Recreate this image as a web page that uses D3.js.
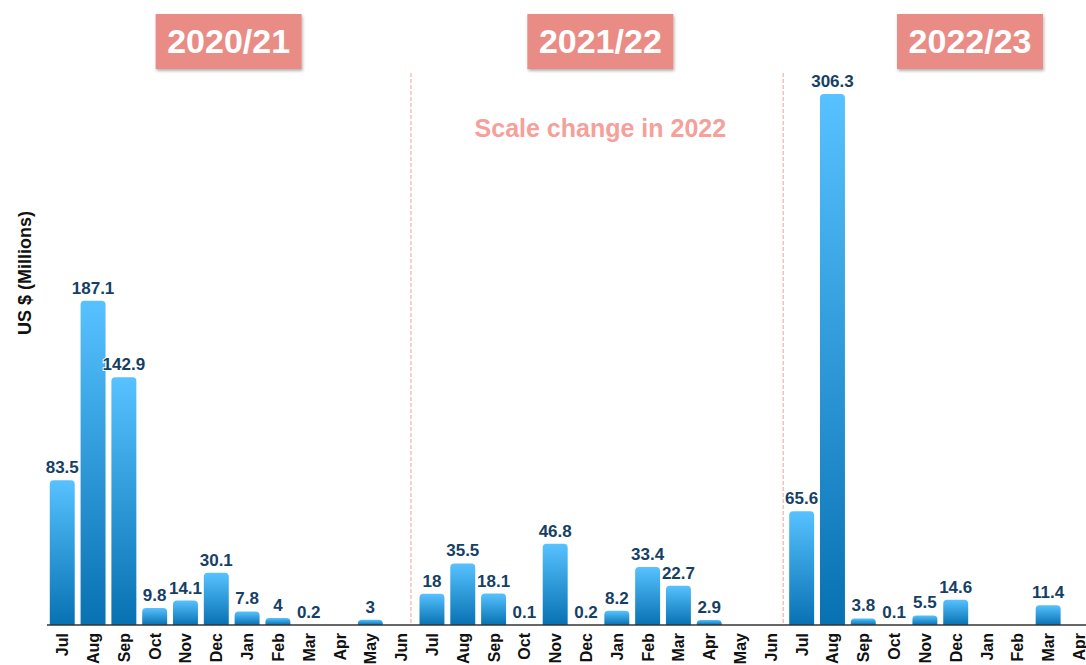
<!DOCTYPE html>
<html>
<head>
    <meta charset="utf-8">
    <title>Monthly values by year</title>
    <script src="https://d3js.org/d3.v7.min.js"></script>
    <style>
        body { margin: 0; background: #fff; }
        svg { display: block; font-family: "Liberation Sans", Arial, Helvetica, sans-serif; }
        .val { font-weight: bold; font-size: 17px; fill: #163f66; stroke: #fff; stroke-width: 2px; paint-order: stroke; }
        .mon { font-weight: bold; font-size: 16px; fill: #111; }
    </style>
</head>
<body>
<svg id="chart"></svg>
<script>
    // year groups and months
    const years = ["2020/21", "2021/22", "2022/23"];
    const months = ["Jul", "Aug", "Sep", "Oct", "Nov", "Dec", "Jan", "Feb", "Mar", "Apr", "May", "Jun"];
    const monthsShown = [12, 12, 10];

    // US $ millions per month (null = no bar)
    const values2020 = [83.5, 187.1, 142.9, 9.8, 14.1, 30.1, 7.8, 4, 0.2, null, 3, null];
    const values2021 = [18, 35.5, 18.1, 0.1, 46.8, 0.2, 8.2, 33.4, 22.7, 2.9, null, null];
    const values2022 = [65.6, 306.3, 3.8, 0.1, 5.5, 14.6, null, null, 11.4, null];

    const note = "Scale change in 2022";
    const yLabel = "US $ (Millions)";

    const width = 1086, height = 665;
    const svg = d3.select("#chart").attr("width", width).attr("height", height);

    // build flat data
    let data = [];
    [values2020, values2021, values2022].forEach(function (arr, g) {
        for (let i = 0; i < monthsShown[g]; i++) {
            data.push({ key: g + "-" + i, group: g, month: months[i], value: arr[i] });
        }
    });

    const x = d3.scaleBand()
        .domain(data.map(d => d.key))
        .range([47, 47 + 30.8 * data.length])
        .paddingInner(0.19)
        .paddingOuter(0.09);
    const step = x.step();
    const y = d3.scaleLinear().domain([0, 306.3]).range([625, 94]);

    // gradient for bars
    const defs = svg.append("defs");
    const grad = defs.append("linearGradient")
        .attr("id", "barGrad").attr("x1", 0).attr("y1", 0).attr("x2", 0).attr("y2", 1);
    grad.append("stop").attr("offset", "0%").attr("stop-color", "#57c2ff");
    grad.append("stop").attr("offset", "100%").attr("stop-color", "#0771b2");

    const flt = defs.append("filter").attr("id", "shadow")
        .attr("x", "-10%").attr("y", "-10%").attr("width", "125%").attr("height", "135%");
    flt.append("feDropShadow").attr("dx", 1).attr("dy", 2).attr("stdDeviation", 1.5)
        .attr("flood-color", "#000").attr("flood-opacity", 0.3);

    // bars with rounded tops
    function barPath(d) {
        const x0 = x(d.key), w = x.bandwidth(), y0 = y(d.value), b = y(0);
        const r = Math.min(4, (b - y0));
        return "M" + x0 + "," + b + "V" + (y0 + r) + "Q" + x0 + "," + y0 + " " + (x0 + r) + "," + y0 +
            "H" + (x0 + w - r) + "Q" + (x0 + w) + "," + y0 + " " + (x0 + w) + "," + (y0 + r) + "V" + b + "Z";
    }
    const withVal = data.filter(d => d.value != null);
    svg.selectAll("path.bar")
        .data(withVal.filter(d => y(0) - y(d.value) >= 1))
        .enter().append("path")
        .attr("class", "bar")
        .attr("d", barPath)
        .attr("fill", "url(#barGrad)");

    svg.selectAll("text.val")
        .data(withVal)
        .enter().append("text")
        .attr("class", "val")
        .attr("text-anchor", "middle")
        .attr("x", d => x(d.key) + x.bandwidth() / 2)
        .attr("y", d => y(d.value) - 7)
        .text(d => d3.format("")(d.value));

    // x axis baseline
    svg.append("line")
        .attr("x1", 47).attr("x2", width).attr("y1", y(0)).attr("y2", y(0))
        .attr("stroke", "#333").attr("stroke-width", 1.6);

    // month labels
    svg.selectAll("text.mon")
        .data(data)
        .enter().append("text")
        .attr("class", "mon")
        .attr("text-anchor", "end")
        .attr("transform", d => "translate(" + (x(d.key) + x.bandwidth() / 2 + 6) + ",633) rotate(-90)")
        .text(d => d.month);

    // separators between years
    const sepShift = [0, 8.5, 6];
    [1, 2].forEach(function (g) {
        const sx = x(g + "-0") - sepShift[g];
        svg.append("line")
            .attr("x1", sx).attr("x2", sx).attr("y1", 73).attr("y2", y(0))
            .attr("stroke", "#f2a29d").attr("stroke-width", 1)
            .attr("stroke-dasharray", "4,2");
    });

    // year titles
    years.forEach(function (t, g) {
        const cx = x(g + "-0") - 4 + 6 * step - (g === 0 ? 2 : 0);
        const gt = svg.append("g").attr("transform", "translate(" + cx + ",41)");
        gt.append("rect")
            .attr("x", -73).attr("y", -27).attr("width", 146).attr("height", 55)
            .attr("fill", "#ea8c86").attr("filter", "url(#shadow)");
        gt.append("text")
            .attr("text-anchor", "middle").attr("dy", "0.36em")
            .attr("font-size", 34).attr("font-weight", "bold")
            .attr("fill", "#fff")
            .text(t);
    });

    // note
    svg.append("text")
        .attr("x", x("1-0") - 4 + 6 * step).attr("y", 137)
        .attr("text-anchor", "middle")
        .attr("font-size", 25).attr("font-weight", "bold")
        .attr("fill", "#f5a09a")
        .text(note);

    // y label
    svg.append("text")
        .attr("transform", "translate(31,273) rotate(-90)")
        .attr("text-anchor", "middle")
        .attr("font-size", 18).attr("font-weight", "bold")
        .attr("fill", "#111")
        .text(yLabel);
</script>
</body>
</html>
